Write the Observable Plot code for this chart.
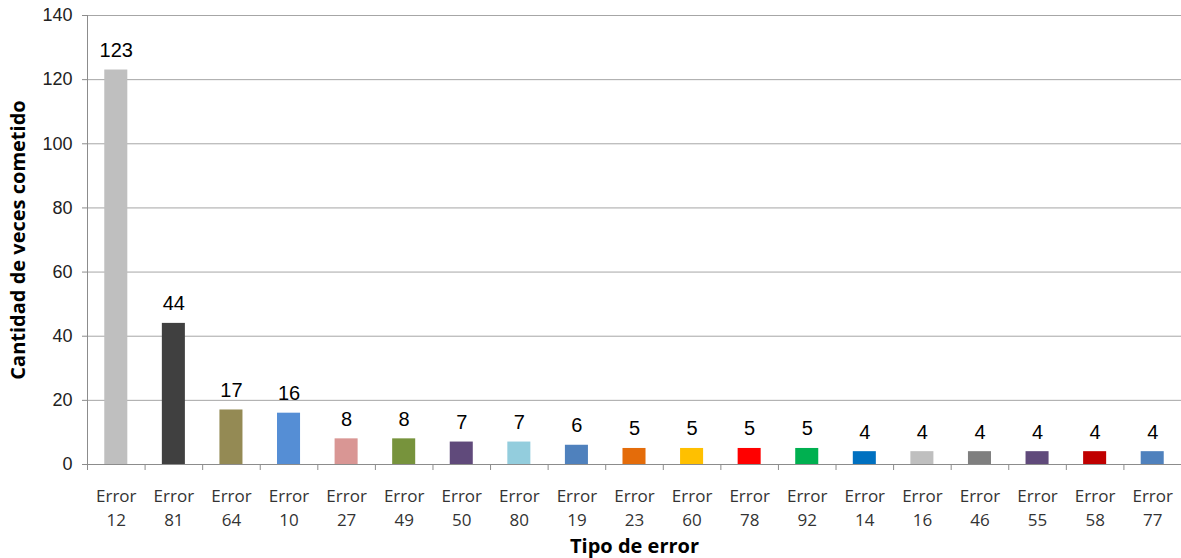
<!DOCTYPE html>
<html>
<head>
<meta charset="utf-8">
<script src="https://cdn.jsdelivr.net/npm/d3@7"></script>
<script src="https://cdn.jsdelivr.net/npm/@observablehq/plot@0.6"></script>
<style>
  html, body { margin: 0; padding: 0; background: #fff; }
  #chart svg { display: block; }
</style>
</head>
<body>
<div id="chart"></div>
<script>
// Error types, how many times each was committed, and the bar colours
const errorCodes = ["12", "81", "64", "10", "27", "49", "50", "80", "19", "23", "60", "78", "92", "14", "16", "46", "55", "58", "77"];
const counts = [123, 44, 17, 16, 8, 8, 7, 7, 6, 5, 5, 5, 5, 4, 4, 4, 4, 4, 4];
const barColors = ["#bfbfbf", "#404040", "#948a54", "#558ed5", "#d99694", "#77933c", "#604a7b", "#93cddd", "#4f81bd", "#e46c0a", "#ffc000", "#ff0000", "#00b050", "#0070c0", "#bfbfbf", "#7f7f7f", "#604a7b", "#c00000", "#4f81bd"];
const yTicks = [0, 20, 40, 60, 80, 100, 120, 140];

const data = errorCodes.map((code, i) => ({
  label: `Error\n${code}`,
  count: counts[i],
  color: barColors[i]
}));
const categories = data.map((d) => d.label);

const width = 1181, height = 558;
const marginLeft = 87, marginRight = 0, marginTop = 15, marginBottom = 94;
const step = (width - marginLeft - marginRight) / categories.length;

const chart = Plot.plot({
  width, height, marginLeft, marginRight, marginTop, marginBottom,
  style: { background: "#fff", fontFamily: "'Liberation Sans', Arial, sans-serif" },
  x: { type: "band", domain: categories, paddingInner: 0.6, paddingOuter: 0.3, round: false, label: null },
  y: { domain: [0, 140], ticks: yTicks, label: null },
  color: { type: "identity" },
  marks: [
    Plot.gridY(yTicks, { stroke: "#a6a6a6", strokeOpacity: 1 }),
    // vertical axis line
    Plot.ruleX([categories[0]], { dx: -step / 2, stroke: "#8c8c8c" }),
    Plot.barY(data, { x: "label", y: "count", fill: "color" }),
    Plot.ruleY([0], { stroke: "#8c8c8c" }),
    // category separator ticks below the baseline
    Plot.axisX({ tickSize: 6, tickFormat: () => "", dx: -step / 2, stroke: "#8c8c8c" }),
    Plot.axisX({
      tickSize: 0, tickPadding: 21, lineHeight: 1.38,
      fontSize: 17, fill: "#333",
      fontFamily: "'Open Sans', sans-serif"
    }),
    Plot.axisY({
      ticks: yTicks, tickSize: 5, tickPadding: 10, stroke: "#8c8c8c",
      fontSize: 18, fill: "#222"
    }),
    Plot.text(data, {
      x: "label", y: "count", text: (d) => String(d.count),
      lineAnchor: "bottom", dy: -13, fontSize: 20, fill: "#000"
    }),
    Plot.text(["Tipo de error"], {
      frameAnchor: "bottom", dy: 82, lineAnchor: "middle",
      fontSize: 20, fontWeight: "bold", fill: "#000",
      fontFamily: "'Open Sans', sans-serif"
    }),
    Plot.text(["Cantidad de veces cometido"], {
      frameAnchor: "left", textAnchor: "middle", dx: -69, rotate: -90, lineAnchor: "middle",
      fontSize: 20, fontWeight: "bold", fill: "#000",
      fontFamily: "'Open Sans', sans-serif"
    })
  ]
});

document.getElementById("chart").appendChild(chart);
</script>
</body>
</html>
